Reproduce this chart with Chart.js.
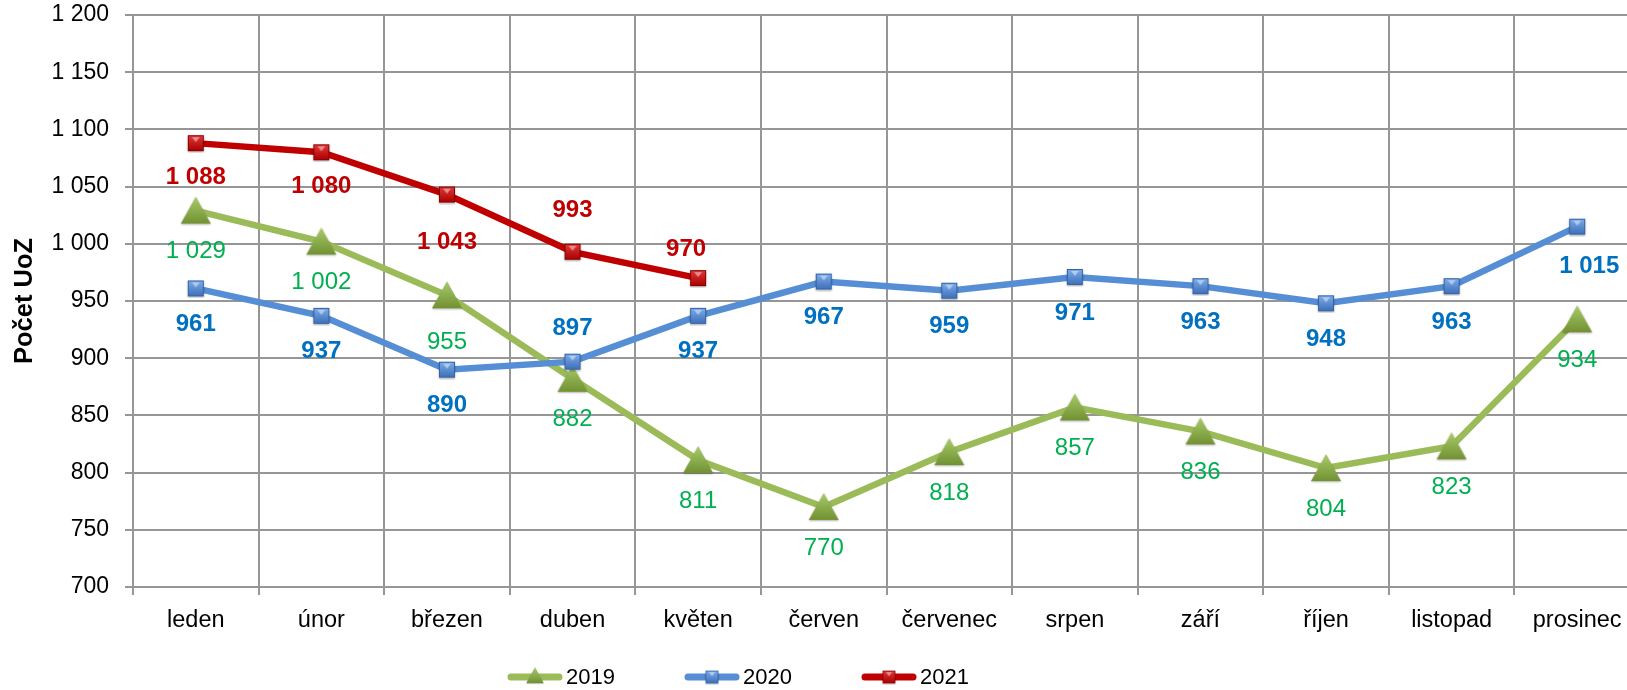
<!DOCTYPE html>
<html lang="cs">
<head>
<meta charset="utf-8">
<title>Počet UoZ</title>
<script src="https://cdn.jsdelivr.net/npm/chart.js@4.4.0/dist/chart.umd.min.js"></script>
<style>
  html, body { margin: 0; padding: 0; background: #fff; overflow: hidden; }
  canvas { display: block; }
</style>
</head>
<body>
<canvas id="graf" width="1640" height="690"></canvas>
<script>
// data z grafu
const mesice = ['leden', 'únor', 'březen', 'duben', 'květen', 'červen', 'červenec', 'srpen', 'září', 'říjen', 'listopad', 'prosinec'];
const roky = ['2019', '2020', '2021'];
const uoz2019 = [1029, 1002, 955, 882, 811, 770, 818, 857, 836, 804, 823, 934];
const uoz2020 = [961, 937, 890, 897, 937, 967, 959, 971, 963, 948, 963, 1015];
const uoz2021 = [1088, 1080, 1043, 993, 970];
const osaMin = 700;
const osaMax = 1200;
const osaKrok = 50;

const PISMO = "'Liberation Sans', Arial, sans-serif";
const MRIZKA = '#969696';

// 1200 -> "1 200"
function cislo(v) {
    return String(v).replace(/\B(?=(\d{3})+(?!\d))/g, ' ');
}

// znacky s prechodem jako v Excelu
function ctverec(svetla, tmava, okraj) {
    const c = document.createElement('canvas');
    c.width = 20; c.height = 20;
    const g = c.getContext('2d');
    g.shadowColor = 'rgba(0,0,0,0.35)';
    g.shadowBlur = 2;
    g.shadowOffsetY = 1;
    const gr = g.createLinearGradient(0, 2, 0, 18);
    gr.addColorStop(0, svetla);
    gr.addColorStop(1, tmava);
    g.fillStyle = gr;
    g.fillRect(2, 2, 16, 16);
    g.shadowColor = 'transparent';
    g.strokeStyle = okraj;
    g.lineWidth = 1;
    g.strokeRect(2.5, 2.5, 15, 15);
    // svetly trojuhelnik nahore
    g.fillStyle = 'rgba(255,255,255,0.45)';
    g.beginPath();
    g.moveTo(6, 4); g.lineTo(14, 4); g.lineTo(10, 9);
    g.closePath(); g.fill();
    return c;
}

function trojuhelnik() {
    const c = document.createElement('canvas');
    c.width = 34; c.height = 32;
    const g = c.getContext('2d');
    g.shadowColor = 'rgba(0,0,0,0.3)';
    g.shadowBlur = 2;
    g.shadowOffsetY = 1;
    const gr = g.createLinearGradient(0, 2, 0, 30);
    gr.addColorStop(0, '#A9CB6A');
    gr.addColorStop(1, '#6F8F30');
    g.fillStyle = gr;
    g.beginPath();
    g.moveTo(17, 2); g.lineTo(32, 29); g.lineTo(2, 29);
    g.closePath(); g.fill();
    return c;
}

const znacka2019 = trojuhelnik();
const znacka2020 = ctverec('#7DAEEA', '#3D6EB8', '#3563A8');
const znacka2021 = ctverec('#E23A3A', '#A80000', '#8E0000');

// popisky hodnot (posun pod bod, rucne posunute vyjimky)
const popisky = {
    id: 'popisky',
    afterDatasetsDraw(chart) {
        const ctx = chart.ctx;
        chart.data.datasets.forEach((ds, i) => {
            const meta = chart.getDatasetMeta(i);
            const p = ds.popisek;
            ctx.save();
            ctx.font = (p.tucne ? 'bold ' : '') + '24px ' + PISMO;
            ctx.fillStyle = p.barva;
            ctx.textAlign = 'center';
            ctx.textBaseline = 'middle';
            meta.data.forEach((bod, j) => {
                const v = ds.data[j];
                if (v == null) return;
                const jinak = p.vyjimky[j] || [0, p.posun];
                ctx.fillText(cislo(v), bod.x + jinak[0], bod.y + jinak[1]);
            });
            ctx.restore();
        });
    }
};

// legenda dole - cara se znackou uprostred
const legenda = {
    id: 'legenda',
    afterDraw(chart) {
        const ctx = chart.ctx;
        const y = 677;
        let x = 508;
        chart.data.datasets.slice().sort((a, b) => a.label.localeCompare(b.label)).forEach(ds => {
            ctx.save();
            ctx.strokeStyle = ds.borderColor;
            ctx.lineWidth = 7;
            ctx.lineCap = 'round';
            ctx.beginPath();
            ctx.moveTo(x + 3, y);
            ctx.lineTo(x + 51, y);
            ctx.stroke();
            const img = ds.pointStyle;
            if (img.width > 24) {
                ctx.drawImage(img, x + 27 - 10, y - 11, 20, 19);
            } else {
                ctx.drawImage(img, x + 27 - 8, y - 8, 16, 16);
            }
            ctx.fillStyle = '#000';
            ctx.font = '22px ' + PISMO;
            ctx.textAlign = 'left';
            ctx.textBaseline = 'middle';
            ctx.fillText(ds.label, x + 58, y + 1);
            ctx.restore();
            x += 177;
        });
    }
};

const ctx = document.getElementById('graf').getContext('2d');
new Chart(ctx, {
    type: 'line',
    data: {
        labels: mesice,
        datasets: [
            {
                label: roky[0],
                data: uoz2019,
                borderColor: '#9BBB59',
                borderWidth: 6.5,
                pointStyle: znacka2019,
                pointRadius: 16,
                tension: 0,
                order: 2,
                popisek: { barva: '#00B050', tucne: false, posun: 41, vyjimky: { 2: [0, 47] } }
            },
            {
                label: roky[1],
                data: uoz2020,
                borderColor: '#558ED5',
                borderWidth: 6.5,
                pointStyle: znacka2020,
                pointRadius: 10,
                tension: 0,
                order: 1,
                popisek: { barva: '#0070C0', tucne: true, posun: 36, vyjimky: { 3: [0, -33], 11: [12, 40] } }
            },
            {
                label: roky[2],
                data: uoz2021,
                borderColor: '#C00000',
                borderWidth: 6.5,
                pointStyle: znacka2021,
                pointRadius: 10,
                tension: 0,
                order: 0,
                popisek: { barva: '#C00000', tucne: true, posun: 34, vyjimky: { 2: [0, 48], 3: [0, -41], 4: [-12, -29] } }
            }
        ]
    },
    options: {
        responsive: false,
        animation: false,
        devicePixelRatio: 1,
        layout: { autoPadding: false, padding: { top: 15, left: 0, right: 0, bottom: 0 } },
        plugins: {
            legend: { display: false },
            tooltip: { enabled: false }
        },
        scales: {
            x: {
                offset: true,
                grid: { offset: true, color: MRIZKA, lineWidth: 2, tickLength: 8 },
                border: { color: MRIZKA, width: 2 },
                ticks: {
                    color: '#000',
                    font: { family: PISMO, size: 23.5 },
                    padding: 11,
                    maxRotation: 0,
                    autoSkip: false
                },
                afterFit: s => {
                    s.height = 103;
                    s.paddingLeft = 0;
                    s.paddingRight = 0;
                }
            },
            y: {
                min: osaMin,
                max: osaMax,
                grid: { color: MRIZKA, lineWidth: 2, tickLength: 8 },
                border: { color: MRIZKA, width: 2 },
                ticks: {
                    stepSize: osaKrok,
                    color: '#000',
                    font: { family: PISMO, size: 23 },
                    padding: 16,
                    callback: v => cislo(v)
                },
                title: {
                    display: true,
                    text: 'Počet UoZ',
                    color: '#000',
                    font: { family: PISMO, size: 25.5, weight: 'bold' },
                    padding: { top: 10, bottom: 0 }
                },
                afterFit: s => {
                    s.width = 133;
                    s.paddingTop = 0;
                    s.paddingBottom = 0;
                }
            }
        }
    },
    plugins: [popisky, legenda]
});
</script>
</body>
</html>
